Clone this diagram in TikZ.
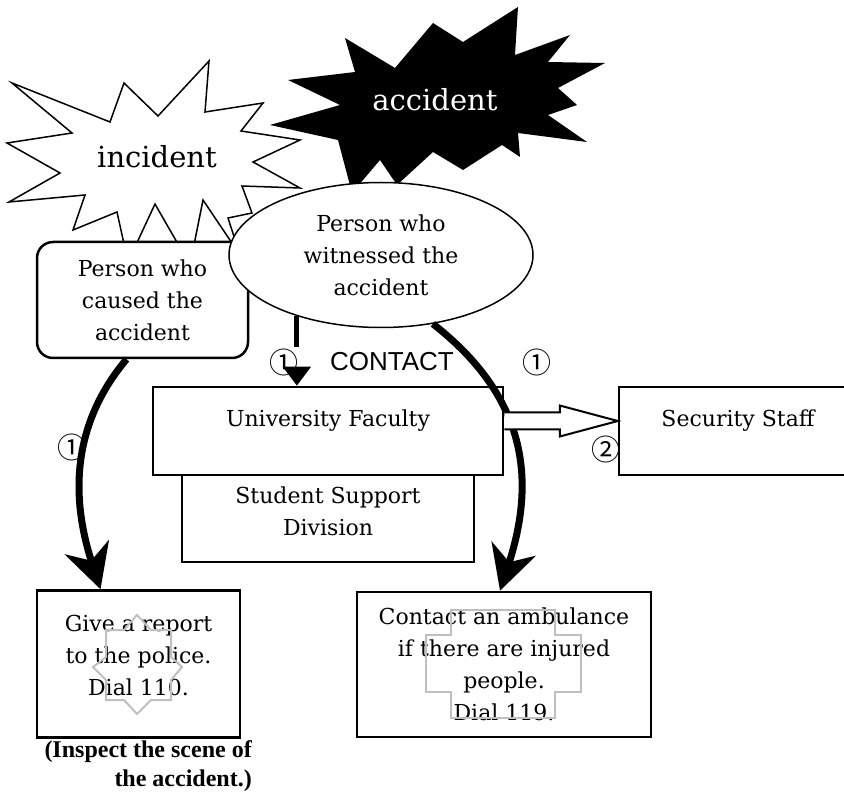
\documentclass[tikz,border=0pt]{standalone}
\usepackage{fontspec}
\setmainfont{DejaVu Serif}
\newfontfamily\contactfont{Liberation Sans}
\newfontfamily\circfont{Noto Sans CJK JP}
\newfontfamily\inspectfont{Liberation Serif}
\usetikzlibrary{arrows.meta,shapes.geometric,calc}

\begin{document}
\begin{tikzpicture}[x=1pt, y=1pt,
    txt/.style={font=\fontsize{22}{32}\selectfont, align=center, inner sep=0pt},
    box/.style={draw, line width=2.5pt, fill=white},
    burst/.style={font=\fontsize{29}{34}\selectfont},
    num/.style={font=\circfont\fontsize{29}{29}\selectfont, inner sep=0pt},
    bigarrow/.style={line width=7pt, -{Stealth[length=44pt, width=46pt, inset=14pt]}},
    badge/.style={draw=black!25, line width=2pt}]

  \useasboundingbox (0,0) rectangle (844,-794);
  \clip (0,0) rectangle (844,-794);

  %incident burst
  \draw[line width=1.5pt, fill=white] (12,-83) -- (110,-122) -- (124,-83) -- (158,-116) -- (209,-61) -- (205,-112) -- (263,-103) -- (241,-131) -- (300,-140) -- (253,-162) -- (300,-188) -- (242,-186) -- (252,-213) -- (228,-218) -- (240,-255) -- (203,-200) -- (190,-265) -- (155,-204) -- (128,-262) -- (117,-212) -- (73,-230) -- (85,-195) -- (9,-202) -- (60,-173) -- (7,-143) -- (72,-133) -- cycle;
  \node[burst] (incident) at (157,-157) {incident};

  %accident burst
  \fill (288,-80) -- (340,-105) -- (270,-125) -- (338,-140) -- (352,-193) -- (380,-160) -- (397,-185) -- (433,-152) -- (463,-170) -- (502,-145) -- (520,-157) -- (518,-133) -- (587,-142) -- (548,-115) -- (577,-105) -- (558,-88) -- (605,-63) -- (548,-62) -- (570,-35) -- (515,-55) -- (518,-7) -- (463,-42) -- (433,-23) -- (395,-68) -- (345,-38) -- (355,-72) -- cycle;
  \node[burst, text=white] (accident) at (435,-100) {accident};

  %people
  \node[box, rounded corners=16pt, minimum width=211, minimum height=116, txt] (cause) at (142.5,-300) {Person who\\caused the\\accident};
  \node[draw, ellipse, line width=1.5pt, fill=white, minimum width=304, minimum height=145, txt] (witness) at (381,-255) {Person who\\witnessed the\\accident};

  %offices
  \node[box, minimum width=350, minimum height=88] (faculty) at (328,-431) {};
  \node[txt] (facultytext) at (328,-421) {University Faculty};
  \node[box, minimum width=292, minimum height=87] (support) at (328,-518.5) {};
  \node[txt] (supporttext) at (328,-511) {Student Support\\Division};
  \node[box, minimum width=260, minimum height=88] (security) at (749,-431) {};
  \node[txt] (securitytext) at (738,-421) {Security Staff};

  %actions
  \node[box, minimum width=203, minimum height=147] (report) at (138.5,-664) {};
  \node[txt] (reporttext) at (138.5,-655) {Give a report\\to the police.\\Dial 110.};
  \node[box, minimum width=294, minimum height=145, txt] (ambulance) at (504,-664.5) {Contact an ambulance\\if there are injured\\people.\\Dial 119.};
  \node[font=\inspectfont\bfseries\fontsize{24}{29}\selectfont, align=right, anchor=north east, inner sep=0pt] (inspect) at (252,-740) {(Inspect the scene of\\the accident.)};

  %labels
  \node[num] (n1) at (284,-362) {①};
  \node[font=\contactfont\fontsize{26}{26}\selectfont, inner sep=0pt] (contact) at (392,-362) {CONTACT};
  \node[num] (n2) at (537,-362) {①};
  \node[num] (n3) at (72,-447) {①};
  \node[num] (n4) at (606,-449) {②};

  %connectors
  \draw[line width=5pt, dash pattern=on 31pt off 200pt, -{Triangle[length=19pt, width=27pt]}] (witness.216.5) -- (witness.216.5 |- faculty.north);
  \draw[bigarrow] ($(cause.south)+(-16,0)$) to[out=-130, in=108] ($(report.north)+(-38,0)$);
  \draw[bigarrow] (witness.-53) to[out=-38, in=72, looseness=1.1] ($(ambulance.north)+(-4,0)$);

  \coordinate (hs) at ($(faculty.east)+(0,10)$);
  \coordinate (he) at (security.west |- hs);
  \filldraw[fill=white, line width=2pt] ($(hs)+(0,8.5)$) -- ($(he)+(-58,8.5)$) -- ($(he)+(-58,15.5)$) -- (he) -- ($(he)+(-58,-15.5)$) -- ($(he)+(-58,-8.5)$) -- ($(hs)+(0,-8.5)$);

  %badges
  \draw[badge] (137,-615) -- (151,-630) -- (171,-630) -- (171,-657) -- (182,-667) -- (171,-680) -- (171,-700) -- (151,-700) -- (137,-714) -- (124,-700) -- (106,-700) -- (106,-680) -- (93,-667) -- (106,-657) -- (106,-630) -- (124,-630) -- cycle;
  \draw[badge] (451,-610) -- (555,-610) -- (555,-635) -- (581,-635) -- (581,-692) -- (555,-692) -- (555,-718) -- (451,-718) -- (451,-692) -- (426,-692) -- (426,-635) -- (451,-635) -- cycle;
\end{tikzpicture}
\end{document}
